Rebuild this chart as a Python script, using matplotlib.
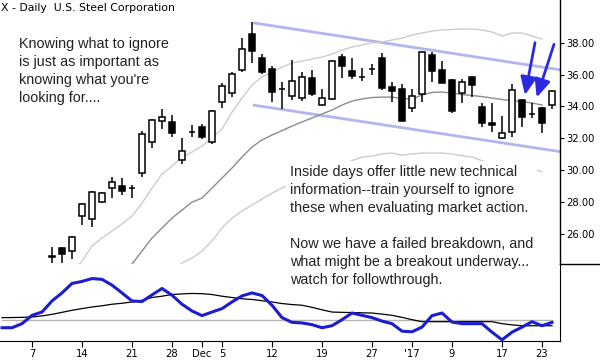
import numpy as np
import pandas as pd
import matplotlib
matplotlib.use("Agg")
import matplotlib.pyplot as plt
from matplotlib.lines import Line2D

nan = np.nan

# trading days Nov 2 2016 - Jan 24 2017
days = pd.bdate_range("2016-11-02", "2017-01-24", freq="C",
                      holidays=["2016-11-24", "2016-12-26", "2017-01-02", "2017-01-16"])

# daily OHLC (first days are below the visible price range)
opens = [nan] * 5 + [24.60, 25.14, 24.95, 27.13, 26.92, 27.99, 28.87, 29.01, 28.87,
                     29.81, 31.75, 33.07, 33.01, 30.64, 32.42, 32.69, 31.75, 34.30, 34.83,
                     36.29, 38.53, 37.06, 36.35, 35.10, 34.66, 34.51, 35.80, 34.09, 34.45,
                     37.08, 36.22, 35.83, 36.33, 37.02, 35.20, 35.08, 33.88, 34.76, 37.23,
                     36.29, 35.66, 34.83, 35.83, 33.95, 32.98, 32.00, 32.38, 34.41, 33.50,
                     33.92, 34.09]
highs = [nan] * 5 + [25.20, 25.20, 25.89, 27.93, 28.72, 28.63, 29.56, 29.49, 29.07,
                     32.46, 33.21, 33.82, 33.46, 32.00, 32.84, 32.90, 33.75, 35.45, 36.14,
                     38.28, 39.28, 37.27, 36.56, 35.55, 36.91, 36.14, 36.29, 35.10, 36.90,
                     37.29, 37.02, 36.39, 36.66, 37.33, 35.55, 35.41, 35.08, 37.47, 37.44,
                     36.87, 35.72, 35.70, 35.91, 34.24, 34.24, 33.40, 35.41, 34.45, 34.20,
                     33.95, 35.03]
lows = [nan] * 5 + [24.20, 24.20, 24.41, 26.56, 26.46, 27.95, 28.28, 28.45, 28.28,
                    29.59, 31.37, 32.57, 32.07, 30.37, 32.07, 31.94, 31.64, 33.88, 34.61,
                    36.14, 36.71, 36.02, 34.26, 33.84, 34.41, 34.34, 34.68, 34.00, 34.40,
                    35.77, 35.70, 35.62, 35.97, 35.03, 34.30, 33.10, 33.67, 34.30, 35.55,
                    35.45, 33.57, 34.24, 34.57, 32.73, 32.42, 31.94, 32.10, 32.73, 33.26,
                    32.32, 33.82]
closes = [nan] * 5 + [24.58, 24.74, 25.79, 27.86, 28.65, 28.55, 29.24, 28.70, 28.87,
                      32.25, 33.15, 33.32, 32.32, 31.22, 32.42, 32.10, 33.72, 35.28, 36.02,
                      37.59, 37.50, 36.18, 34.89, 35.10, 35.60, 35.87, 34.78, 34.55, 36.87,
                      36.56, 35.91, 35.83, 36.33, 35.18, 34.99, 33.11, 34.65, 37.44, 36.22,
                      35.49, 33.73, 35.55, 35.35, 32.94, 32.82, 32.32, 35.03, 33.34, 33.50,
                      32.94, 34.99]

# Bollinger bands as drawn
band_upper = [nan] * 7 + [23.60, 24.30, 25.25, 25.75, 26.19, 26.63, 27.13, 27.94, 28.88,
                          29.76, 30.26, 30.83, 31.14, 31.52, 32.02, 32.59, 33.65, 34.53,
                          35.35, 35.85, 36.16, 36.47, 36.73, 36.85, 36.98, 37.10, 37.29,
                          37.54, 37.73, 37.86, 37.98, 38.04, 38.17, 38.29, 38.48, 38.61,
                          38.73, 38.80, 38.83, 38.86, 38.86, 38.80, 38.67, 38.42, 38.61,
                          38.61, 38.42, 38.23, nan]
band_mid = [nan] * 12 + [23.40, 24.12, 24.93, 25.75, 26.38, 27.00, 27.50, 28.00, 28.26,
                         28.88, 29.51, 30.14, 30.83, 31.46, 31.90, 32.21, 32.49, 32.77,
                         33.03, 33.28, 33.53, 33.78, 34.09, 34.34, 34.47, 34.56, 34.59,
                         34.59, 34.50, 34.47, 34.72, 34.88, 34.91, 34.84, 34.75, 34.69,
                         34.62, 34.53, 34.44, 34.37, 34.31, 34.22, 34.09, nan]
band_lower = [nan] * 17 + [23.60, 24.18, 24.49, 24.93, 25.56, 26.38, 27.00, 27.44, 27.82,
                           28.19, 28.57, 28.88, 29.20, 29.50, 29.80, 30.00, 30.20, 30.40,
                           30.60, 30.83, 30.89, 31.02, 31.08, 30.95, 31.02, 31.08, 31.08,
                           31.08, 31.02, 30.92, 30.83, 30.60, 30.40, 30.20, 30.30, 30.20,
                           30.10, 29.90, nan]

# hand-drawn channel
chan_x = [25.1, 55.9]
chan_top = [39.25, 36.29]
chan_bot = [34.09, 31.16]

# lower indicator panel
ind_blue = [16.7, 16.7, 22.0, 32.9, 37.2, 51.7, 62.2, 74.6, 77.2, 81.0, 79.9, 72.4, 62.2,
            51.7, 50.9, 59.6, 68.0, 59.2, 47.4, 38.6, 32.5, 37.2, 41.7, 50.4, 58.3, 62.2,
            58.8, 46.1, 29.9, 23.7, 23.0, 20.7, 16.7, 19.3, 27.2, 35.9, 32.9, 29.9, 25.4,
            22.0, 12.2, 11.4, 17.5, 32.5, 35.9, 24.1, 22.0, 22.0, 22.0, 10.9, 0.9, 10.9,
            17.5, 24.6, 19.3, 23.7]
ind_black = [29.9, 30.0, 30.3, 30.7, 32.2, 34.2, 36.8, 39.5, 41.7, 43.8, 45.4, 47.4, 48.7,
             50.4, 52.6, 56.2, 57.9, 60.1, 60.9, 61.5, 61.2, 60.1, 57.9, 56.2, 54.6, 53.6,
             52.0, 50.4, 48.3, 47.0, 46.1, 43.4, 40.1, 37.2, 36.8, 36.5, 36.2, 35.9, 34.5,
             32.9, 30.3, 27.2, 24.6, 24.6, 24.6, 24.6, 24.6, 24.6, 24.6, 24.6, 22.0, 20.4,
             19.3, 19.3, 19.3, 19.3]
ind_ref = 26.3

tick_dates = ["2016-11-07", "2016-11-14", "2016-11-21", "2016-11-28", "2016-12-01",
              "2016-12-05", "2016-12-12", "2016-12-19", "2016-12-27", "2017-01-03",
              "2017-01-09", "2017-01-17", "2017-01-23"]
tick_labels = ["7", "14", "21", "28", "Dec", "5", "12", "19", "27", "'17", "9", "17", "23"]

# arrows pointing at the last few bars (tail -> head)
arrows = [((53.3, 38.0), (52.3, 34.72)), ((55.2, 37.9), (53.47, 34.57))]

note_left = ("Knowing what to ignore\nis just as important as\n"
             "knowing what you're\nlooking for....")
note_right = ("Inside days offer little new technical\n"
              "information--train yourself to ignore\n"
              "these when evaluating market action.\n\n"
              "Now we have a failed breakdown, and\n"
              "what might be a breakout underway...\n"
              "watch for followthrough.")


def main():
    x = np.arange(len(days))
    o = np.array(opens); h = np.array(highs); l = np.array(lows); c = np.array(closes)
    m = ~np.isnan(o)

    W, H = 600, 360
    fig = plt.figure(figsize=(6, 3.6), dpi=100)
    ax = fig.add_axes([0, 1 - 264 / H, 560 / W, 264 / H])
    ax2 = fig.add_axes([0, 1 - 340.5 / H, 560 / W, 76.5 / H], sharex=ax)

    # price panel
    ax.plot(chan_x, chan_top, color="#b4b4f0", lw=2, zorder=1, solid_capstyle="butt")
    ax.plot(chan_x, chan_bot, color="#b4b4f0", lw=2, zorder=1, solid_capstyle="butt")
    ax.plot(x, band_upper, color="#cccccc", lw=1, zorder=1)
    ax.plot(x, band_lower, color="#cccccc", lw=1, zorder=1)
    ax.plot(x, band_mid, color="#8c8c8c", lw=1, zorder=1)

    ax.vlines(x[m], l[m], h[m], color="black", lw=1.1, zorder=3)
    up = c[m] >= o[m]
    ax.bar(x[m], c[m] - o[m], bottom=o[m], width=0.6,
           color=np.where(up, "white", "black"), edgecolor="black", lw=1.1, zorder=4)

    for tail, head in arrows:
        ax.annotate("", xy=head, xytext=tail,
                    arrowprops=dict(arrowstyle="-|>,head_length=0.9,head_width=0.4",
                                    color="#2a2ae0", lw=2, mutation_scale=12,
                                    shrinkA=0, shrinkB=0), zorder=6)

    ax.set_xlim(-0.2, 55.8)
    ax.set_ylim(24.12, 40.68)
    ax.yaxis.tick_right()
    ax.set_yticks(np.arange(26, 39, 2))
    ax.yaxis.set_major_formatter("{x:.2f}")
    ax.tick_params(axis="y", length=3, pad=1.5, labelsize=7.2, direction="out")
    ax.tick_params(axis="x", bottom=False, labelbottom=False)
    for s in ["top", "left", "bottom"]:
        ax.spines[s].set_visible(False)
    ax.spines["right"].set_linewidth(1)

    # indicator panel
    ax2.plot(x, [ind_ref] * len(x), color="#b4b4b4", lw=1, zorder=1)
    ax2.plot(x, ind_black, color="black", lw=0.9, zorder=2)
    ax2.plot(x, ind_blue, color="#1c1cd0", lw=2.2, zorder=3)
    ax2.set_ylim(0, 100)
    ax2.set_yticks([])
    pos = [list(days.strftime("%Y-%m-%d")).index(d) for d in tick_dates]
    ax2.set_xticks(pos, tick_labels)
    ax2.tick_params(axis="x", length=4, pad=2, labelsize=7.2)
    for s in ["top", "left"]:
        ax2.spines[s].set_visible(False)
    ax2.patch.set_alpha(0)

    fig.add_artist(Line2D([560 / W, 1], [1 - 264 / H] * 2, color="black", lw=1))

    fig.text(1 / W, 1 - 8 / H, "X - Daily  U.S. Steel Corporation", fontsize=7.8,
             va="center", ha="left")
    fig.text(19 / W, 1 - 37 / H, note_left, fontsize=10.4, family="Liberation Sans",
             color="#222222", va="top", ha="left", linespacing=1.36)
    fig.text(290 / W, 1 - 165 / H, note_right, fontsize=10.4, family="Liberation Sans",
             color="#222222", va="top", ha="left", linespacing=1.36,
             bbox=dict(facecolor="white", edgecolor="none", pad=3))

    fig.savefig("out.png", dpi=100)


if __name__ == "__main__":
    main()
